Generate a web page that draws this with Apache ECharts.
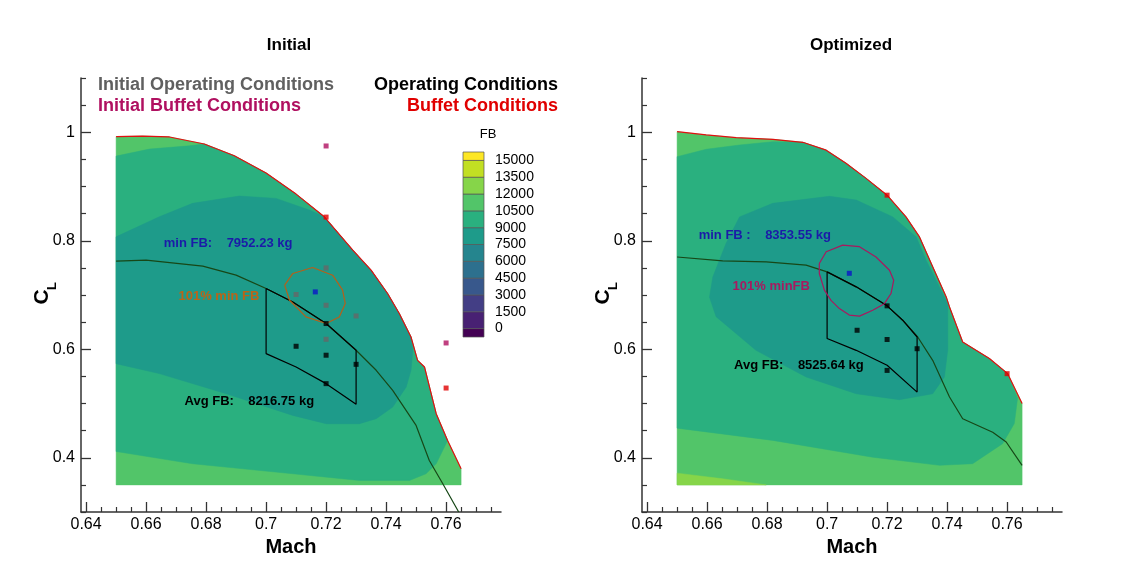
<!DOCTYPE html>
<html>
<head>
<meta charset="utf-8">
<script src="https://cdn.jsdelivr.net/npm/echarts@6/dist/echarts.min.js"></script>
<style>
  html, body { margin: 0; padding: 0; background: #fff; }
  #chart-container { width: 1123px; height: 569px; }
</style>
</head>
<body>
<div id="chart-container"></div>
<script>
var dom = document.getElementById('chart-container');
var myChart = echarts.init(dom, null, { renderer: 'canvas' });

const FONT = '"Liberation Sans", Arial, Helvetica, sans-serif';

// axis ticks
const xMajor = [0.64, 0.66, 0.68, 0.70, 0.72, 0.74, 0.76];
const xMinor = [0.645, 0.65, 0.655, 0.665, 0.67, 0.675, 0.685, 0.69, 0.695, 0.705, 0.71, 0.715,
  0.725, 0.73, 0.735, 0.745, 0.75, 0.755, 0.765, 0.77, 0.775];
const yMajor = [0.4, 0.6, 0.8, 1.0];
const yMinor = [0.3, 0.35, 0.45, 0.5, 0.55, 0.65, 0.7, 0.75, 0.85, 0.9, 0.95, 1.05, 1.1];

// colour bar (FB levels)
const fbLevels = [0, 1500, 3000, 4500, 6000, 7500, 9000, 10500, 12000, 13500, 15000];
const fbEdges = [-750, 0, 1500, 3000, 4500, 6000, 7500, 9000, 10500, 12000, 13500, 15000, 15750];
const fbColors = ['#440154', '#482173', '#433e85', '#38588c', '#2d708e', '#25858e',
  '#1e9b8a', '#2ab07f', '#52c569', '#86d549', '#c2df23', '#fde725'];

// ---------- Initial ----------
const initBuffetLine = [[0.65, 0.992], [0.6588, 0.993], [0.6678, 0.9913], [0.6794, 0.9784], [0.6894, 0.9568],
  [0.70, 0.9248], [0.71, 0.886], [0.7194, 0.8442], [0.7289, 0.7827], [0.735, 0.7458], [0.7405, 0.7028],
  [0.7444, 0.6658], [0.7483, 0.6226], [0.7505, 0.5796], [0.7528, 0.5673], [0.7567, 0.4812],
  [0.7605, 0.4319], [0.765, 0.3797]];
const initMidGreen = [[0.65, 0.4116], [0.65, 0.956], [0.6611, 0.969], [0.6744, 0.975], [0.6794, 0.9784],
  [0.6894, 0.9568], [0.70, 0.9248], [0.71, 0.886], [0.7194, 0.8442], [0.7289, 0.7827], [0.735, 0.7458],
  [0.7405, 0.7028], [0.7444, 0.6658], [0.7483, 0.6226], [0.7505, 0.5796], [0.7528, 0.5673],
  [0.7567, 0.4812], [0.7605, 0.4319], [0.7567, 0.3889], [0.7533, 0.3705], [0.7478, 0.3581],
  [0.7311, 0.3581], [0.7089, 0.3705], [0.6755, 0.3889]];
const initTeal = [[0.65, 0.5735], [0.65, 0.8072], [0.6644, 0.8442], [0.6755, 0.8689], [0.6911, 0.8824],
  [0.7033, 0.8781], [0.7144, 0.8566], [0.7194, 0.8442], [0.7289, 0.7827], [0.735, 0.7458],
  [0.7405, 0.7028], [0.7444, 0.6658], [0.7483, 0.6226], [0.7489, 0.598], [0.7483, 0.5612],
  [0.7467, 0.5303], [0.7422, 0.4934], [0.7367, 0.472], [0.7311, 0.4628], [0.72, 0.4628],
  [0.7089, 0.4781], [0.6867, 0.5181], [0.6644, 0.5551]];
const initTrend = [[0.65, 0.7624], [0.66, 0.7642], [0.6789, 0.7532], [0.69, 0.7366], [0.70, 0.712],
  [0.7089, 0.6872], [0.72, 0.6474], [0.73, 0.5981], [0.7367, 0.5612], [0.7422, 0.5242],
  [0.75, 0.4596], [0.7544, 0.395], [0.7589, 0.352], [0.7642, 0.30]];
const initBox = [[0.70, 0.712], [0.70, 0.592], [0.71, 0.5672], [0.72, 0.5366], [0.73, 0.4984],
  [0.73, 0.5981], [0.72, 0.6474], [0.7089, 0.6872], [0.70, 0.712]];
const initEllipse = [[0.7062, 0.7181], [0.7089, 0.7397], [0.7155, 0.7507], [0.7222, 0.7365],
  [0.7255, 0.7089], [0.7264, 0.6843], [0.7244, 0.6596], [0.72, 0.6474], [0.7133, 0.6596],
  [0.7078, 0.6904], [0.7062, 0.7181]];
const initOperating = [[0.71, 0.6055], [0.72, 0.6474], [0.72, 0.589], [0.72, 0.5366], [0.73, 0.5722]];
const initOldOperating = [[0.71, 0.7009], [0.72, 0.75], [0.72, 0.6811], [0.72, 0.6184], [0.73, 0.6614]];
const initMinPoint = [[0.7164, 0.7057]];
const initOldBuffet = [[0.72, 0.9747], [0.76, 0.6116]];
const initBuffetPts = [[0.72, 0.8436], [0.76, 0.5285]];

// ---------- Optimized ----------
const optBuffetLine = [[0.65, 1.001], [0.6597, 0.995], [0.6697, 0.99], [0.6819, 0.987], [0.6919, 0.9815],
  [0.6997, 0.967], [0.7063, 0.943], [0.713, 0.915], [0.72, 0.884], [0.7263, 0.844], [0.7308, 0.807],
  [0.7352, 0.752], [0.7397, 0.6965], [0.7408, 0.678], [0.7452, 0.6134], [0.7541, 0.583],
  [0.7602, 0.555], [0.765, 0.50]];
const optYellow = [[0.65, 0.35], [0.65, 0.3716], [0.6652, 0.3612], [0.6797, 0.35]];
const optMidGreen = [[0.65, 0.4546], [0.65, 0.955], [0.6597, 0.9686], [0.6708, 0.9765], [0.6819, 0.9826],
  [0.6919, 0.9815], [0.6997, 0.967], [0.7063, 0.943], [0.713, 0.915], [0.72, 0.884], [0.7263, 0.844],
  [0.7308, 0.807], [0.7352, 0.752], [0.7397, 0.6965], [0.7408, 0.678], [0.7452, 0.6134],
  [0.7541, 0.583], [0.7602, 0.555], [0.7635, 0.51], [0.7624, 0.463], [0.7585, 0.426],
  [0.7485, 0.389], [0.7375, 0.386], [0.7152, 0.401], [0.6819, 0.432]];
const optTeal = [[0.6708, 0.844], [0.6819, 0.869], [0.7008, 0.882], [0.7097, 0.875], [0.7219, 0.844],
  [0.7297, 0.807], [0.733, 0.764], [0.7374, 0.715], [0.7402, 0.684], [0.7402, 0.672], [0.7402, 0.598],
  [0.7391, 0.549], [0.7352, 0.518], [0.7241, 0.507], [0.7097, 0.518], [0.693, 0.549], [0.6763, 0.598],
  [0.663, 0.66], [0.6608, 0.696], [0.6619, 0.733], [0.6663, 0.795]];
const optTrend = [[0.65, 0.77], [0.6652, 0.763], [0.6797, 0.761], [0.693, 0.755], [0.70, 0.7426],
  [0.7097, 0.715], [0.72, 0.68], [0.7252, 0.6535], [0.7302, 0.6226], [0.7352, 0.5796],
  [0.7408, 0.512], [0.7452, 0.472], [0.7552, 0.447], [0.7597, 0.429], [0.765, 0.386]];
const optBox = [[0.70, 0.7426], [0.70, 0.6197], [0.7097, 0.598], [0.72, 0.5704], [0.73, 0.521],
  [0.73, 0.6226], [0.7252, 0.6535], [0.72, 0.68], [0.7097, 0.715], [0.70, 0.7426]];
const optContour = [[0.6974, 0.758], [0.6997, 0.7796], [0.7052, 0.792], [0.7108, 0.789], [0.7163, 0.77],
  [0.7208, 0.7457], [0.7222, 0.727], [0.7213, 0.7027], [0.7191, 0.684], [0.7152, 0.672],
  [0.7108, 0.661], [0.7074, 0.663], [0.7041, 0.675], [0.7013, 0.69], [0.6991, 0.709],
  [0.6974, 0.7397], [0.6974, 0.758]];
const optOperating = [[0.72, 0.68], [0.71, 0.635], [0.72, 0.618], [0.73, 0.601], [0.72, 0.561]];
const optMinPoint = [[0.7074, 0.740]];
const optBuffetPts = [[0.72, 0.884], [0.76, 0.555]];

// annotation anchors [mach, CL, text]
const initNotes = [[0.6659, 0.795, 'min FB:    7952.23 kg'],
  [0.6708, 0.6965, '101% min FB'],
  [0.6728, 0.5045, 'Avg FB:    8216.75 kg']];
const optNotes = [[0.6572, 0.8104, 'min FB :    8353.55 kg'],
  [0.6685, 0.7162, '101% minFB'],
  [0.669, 0.5704, 'Avg FB:    8525.64 kg']];
const initNoteColors = ['#1b1ba8', '#bb6418', '#000000'];
const optNoteColors = ['#1b1ba8', '#a8195f', '#000000'];

const DOMAIN_BOTTOM = 0.35;

function domainOf(line) {
  return [[line[0][0], DOMAIN_BOTTOM]].concat(line, [[line[line.length - 1][0], DOMAIN_BOTTOM]]);
}

function polySeries(g, pts, color) {
  return {
    type: 'custom', xAxisIndex: g * 2, yAxisIndex: g * 2, silent: true,
    data: [[0.7, 0.6]],
    renderItem: function (params, api) {
      return {
        type: 'polygon',
        shape: { points: pts.map(p => api.coord(p)) },
        style: { fill: color, stroke: color, lineWidth: 0.5 }
      };
    }
  };
}

function lineSeries(g, pts, color, width) {
  return {
    type: 'line', xAxisIndex: g * 2, yAxisIndex: g * 2, data: pts, silent: true,
    showSymbol: false, symbol: 'none', z: 3,
    lineStyle: { color: color, width: width || 1 }
  };
}

function pointSeries(g, pts, color) {
  return {
    type: 'scatter', xAxisIndex: g * 2, yAxisIndex: g * 2, data: pts, silent: true,
    symbol: 'rect', symbolSize: 5, z: 5, itemStyle: { color: color }
  };
}

function noteSeries(g, notes, colors) {
  return {
    type: 'custom', xAxisIndex: g * 2, yAxisIndex: g * 2, silent: true, z: 6,
    data: notes.map(n => [n[0], n[1]]),
    renderItem: function (params, api) {
      const n = notes[params.dataIndex];
      const p = api.coord([api.value(0), api.value(1)]);
      return {
        type: 'text', x: p[0], y: p[1],
        style: {
          text: n[2], fill: colors[params.dataIndex],
          font: 'bold 13px ' + FONT,
          align: 'left', verticalAlign: 'middle'
        }
      };
    }
  };
}

const fmt = v => String(parseFloat(v.toFixed(2)));

function axesFor(g) {
  const lineStyle = { color: '#333', width: 1.5 };
  const xs = [{
    type: 'value', gridIndex: g, min: 0.6383, max: 0.7783, position: 'bottom',
    axisLine: { show: true, onZero: false, lineStyle: lineStyle },
    axisTick: { show: true, inside: true, length: 10, customValues: xMajor, lineStyle: { color: '#333', width: 1.3 } },
    axisLabel: { customValues: xMajor, formatter: fmt, fontSize: 16, color: '#000', fontFamily: FONT, margin: 5 },
    splitLine: { show: false },
    name: 'Mach', nameLocation: 'middle', nameGap: 19,
    nameTextStyle: { fontSize: 20, fontWeight: 'bold', color: '#000', fontFamily: FONT }
  }, {
    type: 'value', gridIndex: g, min: 0.6383, max: 0.7783, position: 'bottom',
    axisLine: { show: false, onZero: false },
    axisTick: { show: true, inside: true, length: 5, customValues: xMinor, lineStyle: { color: '#333', width: 1.2 } },
    axisLabel: { show: false }, splitLine: { show: false }
  }];
  const ys = [{
    type: 'value', gridIndex: g, min: 0.3, max: 1.1, position: 'left',
    axisLine: { show: true, onZero: false, lineStyle: lineStyle },
    axisTick: { show: true, inside: true, length: 10, customValues: yMajor, lineStyle: { color: '#333', width: 1.3 } },
    axisLabel: { customValues: yMajor, formatter: fmt, fontSize: 16, color: '#000', fontFamily: FONT, margin: 6 },
    splitLine: { show: false }
  }, {
    type: 'value', gridIndex: g, min: 0.3, max: 1.1, position: 'left',
    axisLine: { show: false, onZero: false },
    axisTick: { show: true, inside: true, length: 5, customValues: yMinor, lineStyle: { color: '#333', width: 1.2 } },
    axisLabel: { show: false }, splitLine: { show: false }
  }];
  return { xs: xs, ys: ys };
}

const a0 = axesFor(0), a1 = axesFor(1);

const series = [
  polySeries(0, domainOf(initBuffetLine), fbColors[8]),
  polySeries(0, initMidGreen, fbColors[7]),
  polySeries(0, initTeal, fbColors[6]),
  lineSeries(0, initBuffetLine, '#e01010', 1.2),
  lineSeries(0, initTrend, '#174717', 1.2),
  lineSeries(0, initBox, '#000000', 1.2),
  lineSeries(0, initEllipse, '#b5601a', 1.2),
  pointSeries(0, initOperating, '#000000'),
  pointSeries(0, initOldOperating, '#666666'),
  pointSeries(0, initMinPoint, '#0a14c8'),
  pointSeries(0, initOldBuffet, '#b01060'),
  pointSeries(0, initBuffetPts, '#e00000'),
  noteSeries(0, initNotes, initNoteColors),

  polySeries(1, domainOf(optBuffetLine), fbColors[8]),
  polySeries(1, optYellow, fbColors[9]),
  polySeries(1, optMidGreen, fbColors[7]),
  polySeries(1, optTeal, fbColors[6]),
  lineSeries(1, optBuffetLine, '#e01010', 1.2),
  lineSeries(1, optTrend, '#174717', 1.2),
  lineSeries(1, optBox, '#000000', 1.2),
  lineSeries(1, optContour, '#a8195f', 1.2),
  pointSeries(1, optOperating, '#000000'),
  pointSeries(1, optMinPoint, '#0a14c8'),
  pointSeries(1, optBuffetPts, '#e00000'),
  noteSeries(1, optNotes, optNoteColors),

  {
    type: 'custom', xAxisIndex: 4, yAxisIndex: 4, silent: true,
    data: fbColors.map((c, i) => [i, fbEdges[i], fbEdges[i + 1]]),
    renderItem: function (params, api) {
      const p0 = api.coord([0, api.value(1)]);
      const p1 = api.coord([1, api.value(2)]);
      return {
        type: 'rect',
        shape: { x: p0[0], y: p1[1], width: p1[0] - p0[0], height: p0[1] - p1[1] },
        style: { fill: fbColors[params.dataIndex], stroke: '#555', lineWidth: 0.7 }
      };
    }
  }
];

function txt(x, y, text, font, color, align, rot) {
  return {
    type: 'text', x: x, y: y, rotation: rot || 0, silent: true,
    style: {
      text: text, font: font, fill: color,
      textAlign: align || 'left', align: align || 'left',
      textVerticalAlign: 'middle', verticalAlign: 'middle'
    }
  };
}

var option = {
  animation: false,
  backgroundColor: '#ffffff',
  grid: [
    { left: 81, top: 78, width: 420, height: 434 },
    { left: 642, top: 78, width: 420, height: 434 },
    { left: 463, top: 152, width: 21, height: 185 }
  ],
  xAxis: a0.xs.concat(a1.xs, [{
    type: 'value', gridIndex: 2, min: 0, max: 1, show: false
  }]),
  yAxis: a0.ys.concat(a1.ys, [{
    type: 'value', gridIndex: 2, min: -750, max: 15750, position: 'right',
    axisLine: { show: false }, axisTick: { show: false }, splitLine: { show: false },
    axisLabel: { customValues: fbLevels, formatter: v => String(v), fontSize: 14, color: '#000', fontFamily: FONT, margin: 11 }
  }]),
  graphic: [
    txt(289, 45, 'Initial', 'bold 17px ' + FONT, '#000', 'center'),
    txt(851, 45, 'Optimized', 'bold 17px ' + FONT, '#000', 'center'),
    txt(98, 85, 'Initial Operating Conditions', 'bold 18px ' + FONT, '#606060'),
    txt(98, 106, 'Initial Buffet Conditions', 'bold 18px ' + FONT, '#b01060'),
    txt(558, 85, 'Operating Conditions', 'bold 18px ' + FONT, '#000000', 'right'),
    txt(558, 106, 'Buffet Conditions', 'bold 18px ' + FONT, '#e00000', 'right'),
    txt(488, 134, 'FB', '13px ' + FONT, '#000', 'center'),
    txt(42, 297, 'C', 'bold 21px ' + FONT, '#000', 'center', Math.PI / 2),
    txt(52, 286, 'L', 'bold 13px ' + FONT, '#000', 'center', Math.PI / 2),
    txt(603, 297, 'C', 'bold 21px ' + FONT, '#000', 'center', Math.PI / 2),
    txt(613, 286, 'L', 'bold 13px ' + FONT, '#000', 'center', Math.PI / 2)
  ],
  series: series
};

myChart.setOption(option);
window.addEventListener('resize', myChart.resize);
</script>
</body>
</html>
